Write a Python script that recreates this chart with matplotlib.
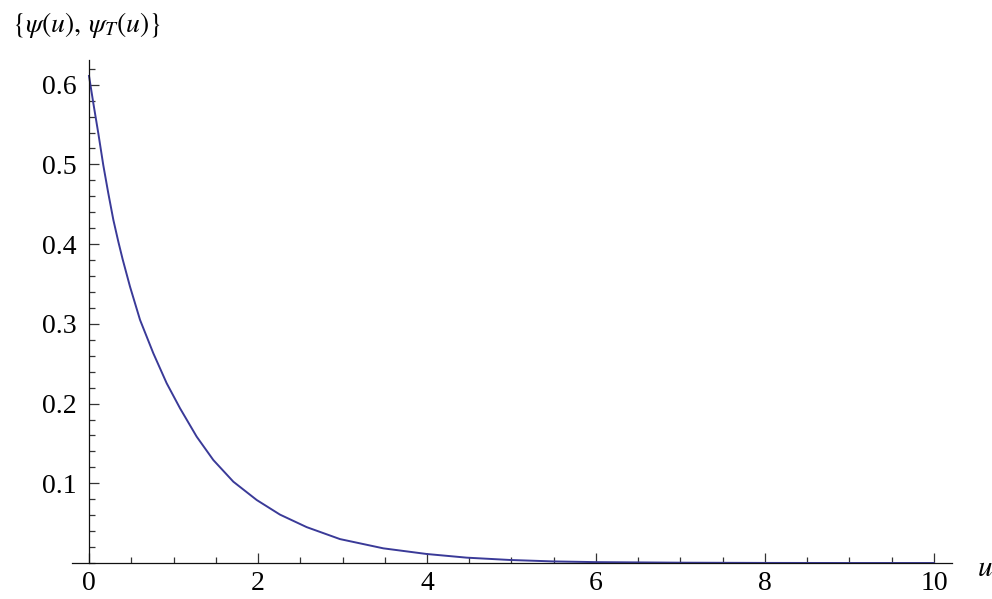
import matplotlib
matplotlib.use("Agg")
import matplotlib.pyplot as plt
from matplotlib.ticker import MultipleLocator, FixedLocator

plt.rcParams['mathtext.fontset'] = 'stix'
plt.rcParams['font.family'] = ['Liberation Serif', 'DejaVu Serif']

# Values
u_vals = [0.0, 0.051, 0.110, 0.169, 0.228, 0.288, 0.347, 0.398, 0.485, 0.604,
          0.761, 0.919, 1.077, 1.274, 1.471, 1.708, 1.985, 2.260, 2.576, 2.970,
          3.483, 3.996, 4.47, 4.98, 5.49, 6.0, 7.0, 8.0, 9.0, 10.0]
psi_vals = [0.611, 0.5768, 0.539, 0.499, 0.4639, 0.4304, 0.403, 0.381, 0.3467, 0.3049,
            0.2631, 0.2255, 0.1941, 0.1585, 0.1292, 0.102, 0.079, 0.0607, 0.0450, 0.030,
            0.0184, 0.0113, 0.0067, 0.0038, 0.0020, 0.0011, 0.0004, 0.0001, 0.0, 0.0]

x_ticks = [0, 2, 4, 6, 8, 10]
y_ticks = [0.1, 0.2, 0.3, 0.4, 0.5, 0.6]
y_tick_labels = ["0.1", "0.2", "0.3", "0.4", "0.5", "0.6"]

fig = plt.figure(figsize=(9.92, 5.99), dpi=100)
ax = fig.add_axes([71.7/992, (599-563)/599, 880/992, (563-60)/599])

ax.plot(u_vals, psi_vals, color='#3a3a98', lw=1.4, solid_joinstyle='round')

ax.set_xlim(-0.205, 10.21)
ax.set_ylim(0, 0.631)

for s in ['top', 'right']:
    ax.spines[s].set_visible(False)
ax.spines['left'].set_position(('data', 0))
for s in ['left', 'bottom']:
    ax.spines[s].set_linewidth(0.9)
    ax.spines[s].set_color('#111111')

ax.xaxis.set_major_locator(FixedLocator(x_ticks))
ax.xaxis.set_minor_locator(MultipleLocator(0.5))
ax.yaxis.set_major_locator(FixedLocator(y_ticks))
ax.yaxis.set_minor_locator(MultipleLocator(0.02))
ax.set_yticklabels(y_tick_labels)

ax.tick_params(which='both', direction='in', color='#333333', width=0.9, labelsize=20)
ax.tick_params(which='major', length=7.4)
ax.tick_params(which='minor', length=4.4)
ax.tick_params(axis='x', pad=6)
ax.tick_params(axis='y', pad=9)

fig.text(12/992, 1-32/599, r'$\{\psi(u),\,\psi_T(u)\}$', fontsize=20, ha='left', va='baseline')
fig.text(977/992, 1-576/599, r'$u$', fontsize=21, ha='left', va='baseline')

fig.savefig('out.png', dpi=100)
